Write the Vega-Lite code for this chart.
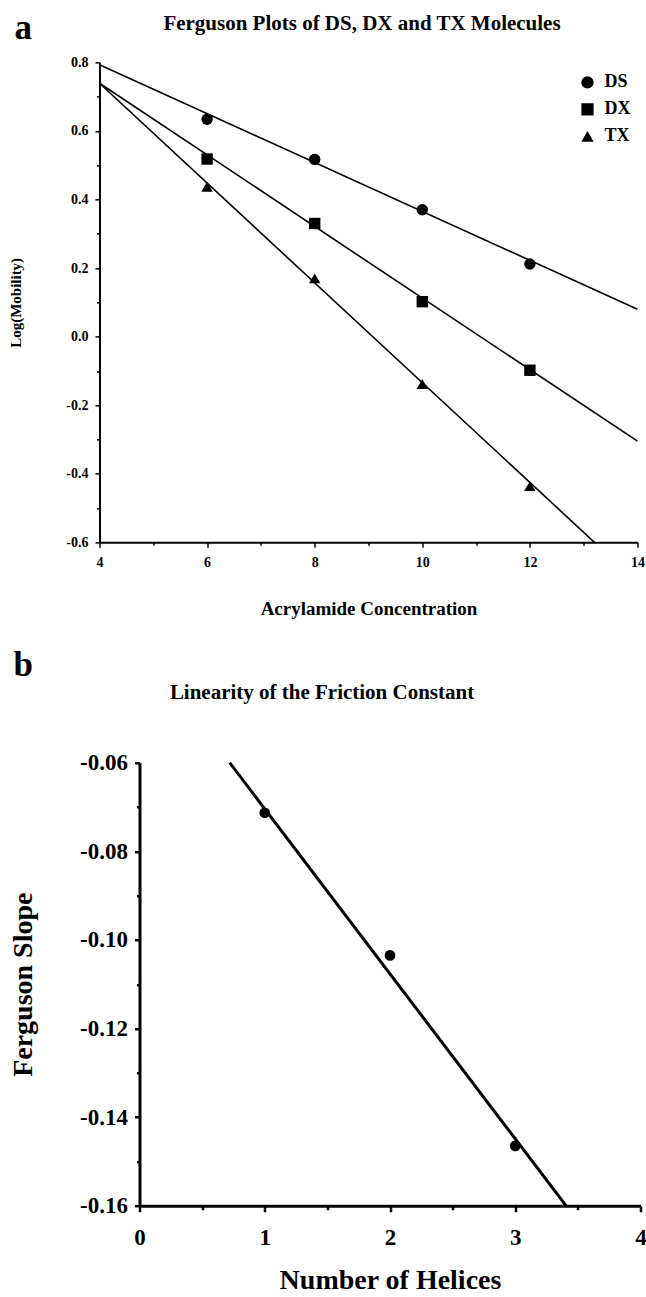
{
  "$schema": "https://vega.github.io/schema/vega-lite/v6.json",
  "background": "white",
  "autosize": {"type": "pad"},
  "padding": {"left": 8.5, "top": 10.35, "right": 0, "bottom": 0},
  "config": {"view": {"stroke": null}, "font": "Liberation Serif"},
  "columns": 1,
  "spacing": 29.35,
  "datasets": {
    "ferguson": [
      {"series": "DS", "conc": 6, "logMobility": 0.634},
      {"series": "DS", "conc": 8, "logMobility": 0.517},
      {"series": "DS", "conc": 10, "logMobility": 0.370},
      {"series": "DS", "conc": 12, "logMobility": 0.212},
      {"series": "DX", "conc": 6, "logMobility": 0.518},
      {"series": "DX", "conc": 8, "logMobility": 0.330},
      {"series": "DX", "conc": 10, "logMobility": 0.102},
      {"series": "DX", "conc": 12, "logMobility": -0.098},
      {"series": "TX", "conc": 6, "logMobility": 0.437},
      {"series": "TX", "conc": 8, "logMobility": 0.170},
      {"series": "TX", "conc": 10, "logMobility": -0.138},
      {"series": "TX", "conc": 12, "logMobility": -0.436}
    ],
    "fergusonFit": [
      {"series": "DS", "conc": 4, "logMobility": 0.793},
      {"series": "DS", "conc": 14, "logMobility": 0.080},
      {"series": "DX", "conc": 4, "logMobility": 0.739},
      {"series": "DX", "conc": 14, "logMobility": -0.305},
      {"series": "TX", "conc": 4, "logMobility": 0.739},
      {"series": "TX", "conc": 13.2, "logMobility": -0.600}
    ],
    "friction": [
      {"helices": 1, "slope": -0.0713},
      {"helices": 2, "slope": -0.1035},
      {"helices": 3, "slope": -0.1465}
    ],
    "frictionFit": [
      {"helices": 0.72, "slope": -0.06},
      {"helices": 3.405, "slope": -0.16}
    ]
  },
  "concat": [
    {
      "width": 538,
      "height": 480,
      "title": {"text": "a", "anchor": "start", "frame": "group", "dx": -85, "offset": -61.6, "baseline": "alphabetic", "fontSize": 35, "font": "Liberation Serif", "fontWeight": "bold", "color": "black"},
      "encoding": {
        "y": {
          "field": "logMobility", "type": "quantitative",
          "scale": {"domain": [-0.6, 0.8], "nice": false, "zero": false},
          "axis": {
            "grid": false,
            "title": "Log(Mobility)", "titleFont": "Liberation Serif", "titleFontWeight": "bold", "titleFontSize": 15, "titleColor": "black",
            "titleBaseline": "alphabetic", "titleAlign": "center", "titleX": -79, "titleY": 240,
            "values": [-0.6, -0.5, -0.4, -0.3, -0.2, -0.1, 0, 0.1, 0.2, 0.3, 0.4, 0.5, 0.6, 0.7, 0.8],
            "labelExpr": "abs(round(datum.value * 10)) % 2 == 0 ? replace(format(datum.value, '.1f'), '\u2212', '-') : ''",
            "labelFont": "Liberation Serif", "labelFontWeight": "bold", "labelFontSize": 14, "labelColor": "black",
            "labelPadding": 7, "labelFlush": false, "labelOverlap": false,
            "tickSize": {"condition": {"test": "abs(round(datum.value * 10)) % 2 == 1", "value": 3}, "value": 4.5},
            "tickWidth": 1.5, "tickColor": "black", "domainColor": "black", "domainWidth": 2
          }
        }
      },
      "layer": [
        {
          "data": {"name": "fergusonFit"},
          "mark": {"type": "line", "color": "black", "strokeWidth": 1.6},
          "encoding": {
            "x": {
              "field": "conc", "type": "quantitative",
              "scale": {"domain": [4, 14], "nice": false, "zero": false},
              "axis": {
                "orient": "bottom", "grid": false,
                "title": "Acrylamide Concentration", "titleFont": "Liberation Serif", "titleFontWeight": "bold", "titleFontSize": 19, "titleColor": "black",
                "titleBaseline": "alphabetic", "titleAlign": "center", "titleX": 269, "titleY": 72,
                "values": [4, 5, 6, 7, 8, 9, 10, 11, 12, 13, 14],
                "labelExpr": "datum.value % 2 == 0 ? format(datum.value, 'd') : ''",
                "labelFont": "Liberation Serif", "labelFontWeight": "bold", "labelFontSize": 14, "labelColor": "black",
                "labelPadding": 8.5, "labelFlush": false, "labelOverlap": false,
                "tickSize": {"condition": {"test": "datum.value % 2 != 0", "value": 3}, "value": 5},
                "tickWidth": 1.5, "tickColor": "black", "domainColor": "black", "domainWidth": 2
              }
            },
            "detail": {"field": "series", "type": "nominal"}
          }
        },
        {
          "data": {"name": "ferguson"},
          "mark": {"type": "point", "filled": true, "color": "black", "opacity": 1, "size": 130},
          "encoding": {
            "x": {
              "field": "conc", "type": "quantitative",
              "axis": {
                "orient": "top", "grid": false, "labels": false, "ticks": false, "domain": false,
                "title": "Ferguson Plots of DS, DX and TX Molecules", "titleFont": "Liberation Serif", "titleFontWeight": "bold", "titleFontSize": 21, "titleColor": "black",
                "titleBaseline": "alphabetic", "titleAlign": "center", "titleX": 262, "titleY": -33
              }
            },
            "shape": {
              "field": "series", "type": "nominal",
              "scale": {"domain": ["DS", "DX", "TX"], "range": ["circle", "square", "triangle-up"]},
              "legend": {
                "title": null, "orient": "none", "legendX": 479, "legendY": 11,
                "labelFont": "Liberation Serif", "labelFontWeight": "bold", "labelFontSize": 18, "labelColor": "black",
                "symbolSize": 150, "symbolFillColor": "black", "symbolStrokeColor": "black", "symbolStrokeWidth": 0,
                "rowPadding": 9, "labelOffset": 8
              }
            }
          }
        }
      ]
    },
    {
      "width": 541,
      "height": 443,
      "title": {"text": "b", "anchor": "start", "frame": "group", "dx": -86, "offset": -29.6, "baseline": "alphabetic", "fontSize": 35, "font": "Liberation Serif", "fontWeight": "bold", "color": "black"},
      "encoding": {
        "y": {
          "field": "slope", "type": "quantitative",
          "scale": {"domain": [-0.16, -0.06], "nice": false, "zero": false},
          "axis": {
            "grid": false, "offset": -40,
            "title": "Ferguson Slope", "titleFont": "Liberation Serif", "titleFontWeight": "bold", "titleFontSize": 28, "titleColor": "black",
            "titleBaseline": "alphabetic", "titleAlign": "center", "titleX": -108, "titleY": 221.5,
            "values": [-0.16, -0.15, -0.14, -0.13, -0.12, -0.11, -0.1, -0.09, -0.08, -0.07, -0.06],
            "labelExpr": "abs(round(datum.value * 100)) % 2 == 0 ? replace(format(datum.value, '.2f'), '\u2212', '-') : ''",
            "labelFont": "Liberation Serif", "labelFontWeight": "bold", "labelFontSize": 23, "labelColor": "black",
            "labelPadding": 7, "labelFlush": false, "labelOverlap": false,
            "tickSize": {"condition": {"test": "abs(round(datum.value * 100)) % 2 == 1", "value": 3}, "value": 5},
            "tickWidth": 2.5, "tickColor": "black", "domainColor": "black", "domainWidth": 3
          }
        }
      },
      "layer": [
        {
          "data": {"name": "frictionFit"},
          "mark": {"type": "line", "color": "black", "strokeWidth": 3},
          "encoding": {
            "x": {
              "field": "helices", "type": "quantitative",
              "scale": {"domain": [0, 4], "range": [40, 541], "nice": false, "zero": false},
              "axis": {
                "orient": "bottom", "grid": false,
                "title": "Number of Helices", "titleFont": "Liberation Serif", "titleFontWeight": "bold", "titleFontSize": 28, "titleColor": "black",
                "titleBaseline": "alphabetic", "titleAlign": "center", "titleX": 290.5, "titleY": 83,
                "values": [0, 0.5, 1, 1.5, 2, 2.5, 3, 3.5, 4],
                "labelExpr": "datum.value % 1 == 0 ? format(datum.value, 'd') : ''",
                "labelFont": "Liberation Serif", "labelFontWeight": "bold", "labelFontSize": 23, "labelColor": "black",
                "labelPadding": 14.5, "labelFlush": false, "labelOverlap": false,
                "tickSize": {"condition": {"test": "datum.value % 1 != 0", "value": 4}, "value": 6},
                "tickWidth": 2.5, "tickColor": "black", "domainColor": "black", "domainWidth": 3
              }
            }
          }
        },
        {
          "data": {"name": "friction"},
          "mark": {"type": "point", "filled": true, "color": "black", "opacity": 1, "size": 115, "shape": "circle"},
          "encoding": {
            "x": {
              "field": "helices", "type": "quantitative",
              "axis": {
                "orient": "top", "grid": false, "labels": false, "ticks": false, "domain": false,
                "title": "Linearity of the Friction Constant", "titleFont": "Liberation Serif", "titleFontWeight": "bold", "titleFontSize": 21, "titleColor": "black",
                "titleBaseline": "alphabetic", "titleAlign": "center", "titleX": 222, "titleY": -64
              }
            }
          }
        }
      ]
    }
  ]
}
